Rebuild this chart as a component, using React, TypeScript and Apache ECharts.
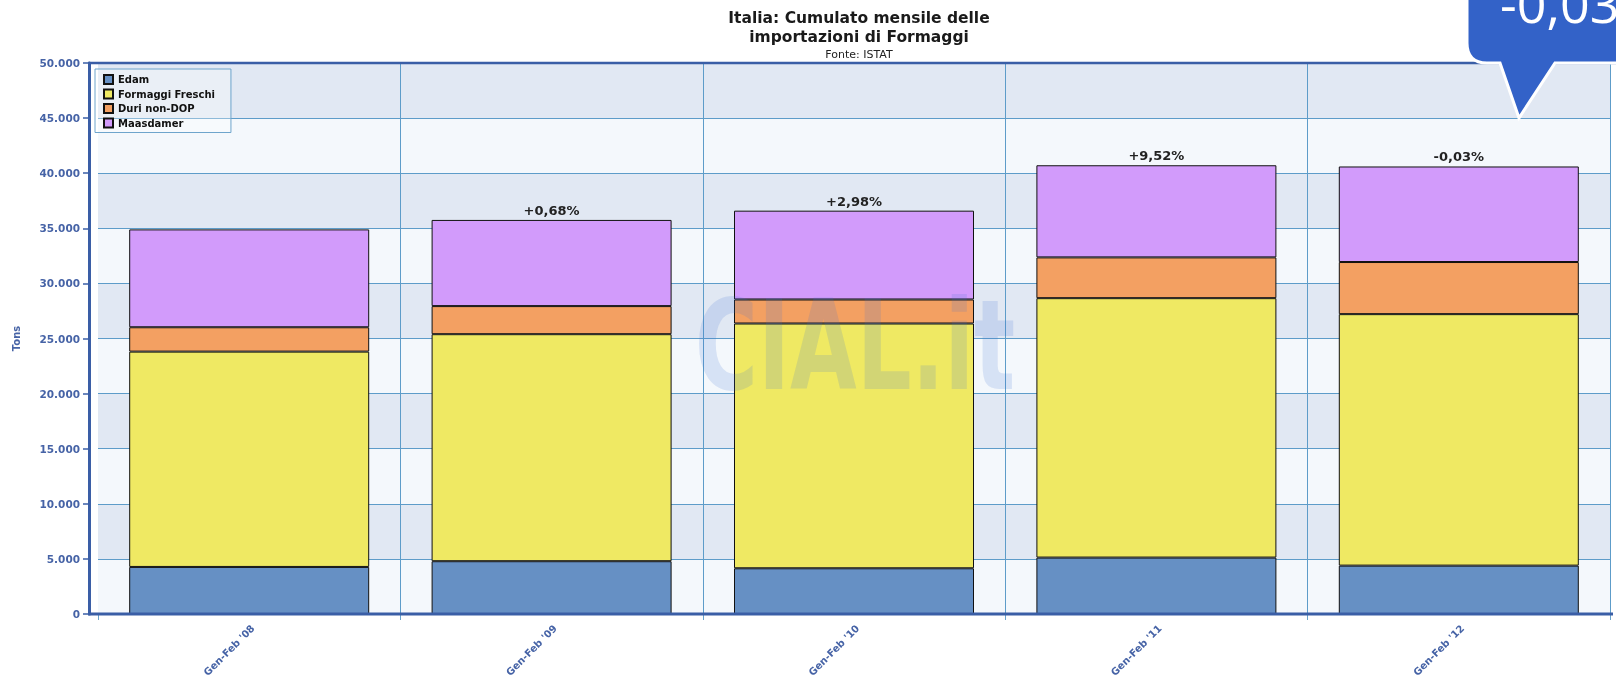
import React, { useEffect, useRef } from "react";
import * as echarts from "echarts";

const categories = ["Gen-Feb '08", "Gen-Feb '09", "Gen-Feb '10", "Gen-Feb '11", "Gen-Feb '12"];
const edam = [4270, 4790, 4150, 5120, 4390];
const formaggiFreschi = [19540, 20600, 22210, 23540, 22820];
const duriNonDop = [2210, 2550, 2180, 3700, 4730];
const maasdamer = [8880, 7820, 8060, 8360, 8670];
const pctLabels = ["", "+0,68%", "+2,98%", "+9,52%", "-0,03%"];
const seriesNames = ["Edam", "Formaggi Freschi", "Duri non-DOP", "Maasdamer"];
const seriesColors = ["#6690c4", "#efe963", "#f3a062", "#d29bfb"];
const titleLines = ["Italia: Cumulato mensile delle", "importazioni di Formaggi"];
const subtitle = "Fonte: ISTAT";
const calloutText = "-0,03%";
const watermark = "CIAL.it";
const yAxisName = "Tons";

echarts.graphic.registerShape(
  "callout",
  echarts.graphic.extendPath(
    "M1467,-40 L1640,-40 L1640,63 L1555,63 L1519,118 L1500,63 L1487,63 Q1467,63 1467,43 Z",
    {}
  )
);

const FONT = "'DejaVu Sans', Verdana, sans-serif";
const AXIS_BLUE = "#3a5ea6";
const LABEL_BLUE = "#4663a6";
const GRID_BLUE = "#5d9cc9";

export default function App() {
  const ref = useRef<HTMLDivElement>(null);
  useEffect(() => {
    const chart = echarts.init(ref.current!, null, { renderer: "svg" });
    const allData = [edam, formaggiFreschi, duriNonDop, maasdamer];
    chart.setOption({
      animation: false,
      textStyle: { fontFamily: FONT },
      grid: { left: 98, right: 6, top: 63, bottom: 63, containLabel: false, outerBoundsMode: "none" },
      legend: {
        orient: "vertical",
        left: 95,
        top: 69,
        data: seriesNames,
        icon: "rect",
        itemWidth: 9,
        itemHeight: 9,
        itemGap: 3.5,
        padding: [5, 16, 4, 8],
        borderColor: "#6ea5cc",
        borderWidth: 1,
        backgroundColor: "rgba(255,255,255,0.3)",
        textStyle: { fontSize: 10, fontWeight: "bold", color: "#111", fontFamily: FONT },
        selectedMode: false,
      },
      xAxis: {
        type: "category",
        data: categories,
        boundaryGap: true,
        axisLine: { show: false },
        axisTick: { show: true, length: 6, interval: 0, lineStyle: { color: "#6aa3cc", width: 1 } },
        axisLabel: {
          rotate: 45,
          interval: 0,
          fontSize: 10,
          fontWeight: "bold",
          color: LABEL_BLUE,
          margin: 9,
          verticalAlign: "top",
          fontFamily: FONT,
        },
        splitLine: {
          show: true,
          interval: (i: number) => i !== 0,
          lineStyle: { color: GRID_BLUE, width: 1 },
        },
      },
      yAxis: {
        type: "value",
        min: 0,
        max: 50000,
        interval: 5000,
        offset: 9,
        name: yAxisName,
        nameLocation: "middle",
        nameGap: 68,
        nameRotate: 90,
        nameTextStyle: { fontSize: 10, fontWeight: "bold", color: LABEL_BLUE, fontFamily: FONT },
        axisLine: { show: true, lineStyle: { color: AXIS_BLUE, width: 3 } },
        axisTick: { show: true, length: 6, lineStyle: { color: AXIS_BLUE, width: 1.5 } },
        axisLabel: {
          fontSize: 10.5,
          fontWeight: "bold",
          color: LABEL_BLUE,
          margin: 9,
          fontFamily: FONT,
          formatter: (v: number) => (v === 0 ? "0" : String(v / 1000) + ".000"),
        },
        splitLine: { show: true, lineStyle: { color: GRID_BLUE, width: 1 } },
        splitArea: { show: true, areaStyle: { color: ["#f4f8fc", "#e1e8f3"] } },
      },
      series: allData.map((d, i) => ({
        name: seriesNames[i],
        type: "bar",
        stack: "total",
        data: d,
        barWidth: 240,
        itemStyle: { color: seriesColors[i], borderColor: "#111", borderWidth: 1 },
        label:
          i === 3
            ? {
                show: true,
                position: "top",
                distance: 3,
                formatter: (p: any) => pctLabels[p.dataIndex],
                fontSize: 13,
                fontWeight: "bold",
                color: "#222",
                fontFamily: FONT,
              }
            : { show: false },
      })),
      graphic: [
        {
          type: "line",
          z: 20,
          shape: { x1: 88, y1: 63, x2: 1616, y2: 63 },
          style: { stroke: AXIS_BLUE, lineWidth: 2.5 },
        },
        {
          type: "line",
          z: 20,
          shape: { x1: 88, y1: 614, x2: 1613, y2: 614 },
          style: { stroke: AXIS_BLUE, lineWidth: 3 },
        },
        {
          type: "text",
          z: 30,
          x: 859,
          y: 17.5,
          style: {
            text: titleLines[0],
            align: "center",
            verticalAlign: "middle",
            font: "bold 15.5px 'DejaVu Sans', Verdana, sans-serif",
            fill: "#1a1a1a",
          },
        },
        {
          type: "text",
          z: 30,
          x: 859,
          y: 37,
          style: {
            text: titleLines[1],
            align: "center",
            verticalAlign: "middle",
            font: "bold 15.5px 'DejaVu Sans', Verdana, sans-serif",
            fill: "#1a1a1a",
          },
        },
        {
          type: "text",
          z: 30,
          x: 859,
          y: 54,
          style: {
            text: subtitle,
            align: "center",
            verticalAlign: "middle",
            font: "11px 'DejaVu Sans', Verdana, sans-serif",
            fill: "#222",
          },
        },
        {
          type: "text",
          z: 40,
          x: 855,
          y: 345,
          scaleX: 0.69,
          style: {
            text: watermark,
            align: "center",
            verticalAlign: "middle",
            font: "bold 125px 'DejaVu Sans', sans-serif",
            fill: "rgba(60,110,210,0.16)",
          },
        },
        {
          type: "callout",
          z: 100,
          x: 0,
          y: 0,
          style: { fill: "#3362c8", stroke: "#ffffff", lineWidth: 3 },
        },
        {
          type: "text",
          z: 110,
          x: 1500,
          y: 2,
          style: {
            text: calloutText,
            align: "left",
            verticalAlign: "middle",
            font: "52px 'Open Sans', sans-serif",
            fill: "#ffffff",
          },
        },
      ],
    });
    return () => chart.dispose();
  }, []);
  return <div ref={ref} style={{ position: "fixed", left: 0, top: 0, width: 1616, height: 677 }} />;
}
